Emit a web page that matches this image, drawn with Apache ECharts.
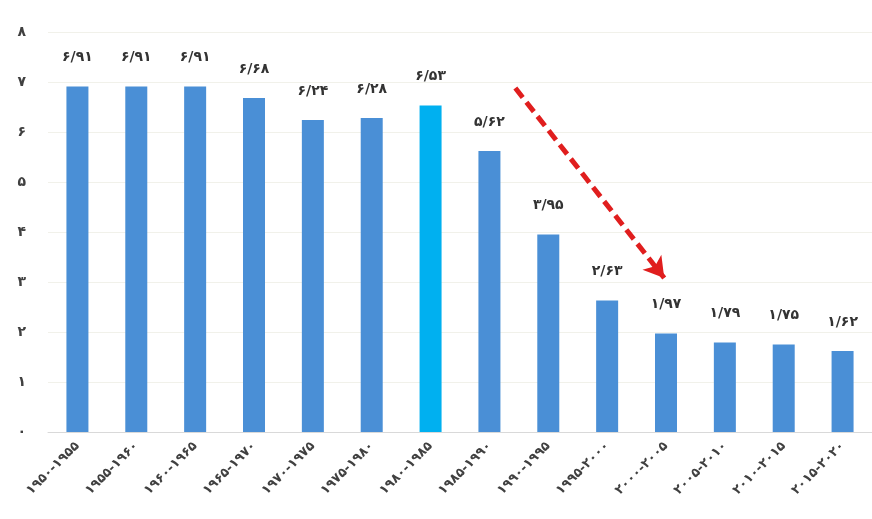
<!DOCTYPE html>
<html>
<head>
<meta charset="utf-8">
<script src="https://cdn.jsdelivr.net/npm/echarts@6/dist/echarts.min.js"></script>
<style>html,body{margin:0;padding:0;background:#fff}#c{width:872px;height:519px}</style>
</head>
<body>
<div id="c"></div>
<script>
var categories = ['۱۹۵۰-۱۹۵۵','۱۹۵۵-۱۹۶۰','۱۹۶۰-۱۹۶۵','۱۹۶۵-۱۹۷۰','۱۹۷۰-۱۹۷۵','۱۹۷۵-۱۹۸۰','۱۹۸۰-۱۹۸۵','۱۹۸۵-۱۹۹۰','۱۹۹۰-۱۹۹۵','۱۹۹۵-۲۰۰۰','۲۰۰۰-۲۰۰۵','۲۰۰۵-۲۰۱۰','۲۰۱۰-۲۰۱۵','۲۰۱۵-۲۰۲۰'];
var values = [6.91, 6.91, 6.91, 6.68, 6.24, 6.28, 6.53, 5.62, 3.95, 2.63, 1.97, 1.79, 1.75, 1.62];
var highlightIndex = 6;
var arrowStart = [7.94, 6.88];
var arrowEnd = [10.47, 3.08];

var fa = '۰۱۲۳۴۵۶۷۸۹';
function toFa(s){ return String(s).replace(/[0-9]/g, function(d){return fa[+d];}).replace('.', '/'); }

var chart = echarts.init(document.getElementById('c'));
chart.setOption({
  animation: false,
  grid: { left: 48, width: 829, top: 32, bottom: 87 },
  xAxis: [{
    type: 'category', data: categories,
    axisLine: { lineStyle: { color: '#d9d9d9' } },
    axisTick: { show: false },
    axisLabel: { rotate: 45, color: '#404040', fontSize: 13, fontWeight: 'bold', fontFamily: 'DejaVu Sans', margin: 12, interval: 0 }
  }, {
    type: 'value', min: 0, max: 14, show: false
  }],
  yAxis: {
    type: 'value', min: 0, max: 8, interval: 1,
    axisLine: { show: false }, axisTick: { show: false },
    splitLine: { lineStyle: { color: '#f1f1ea' } },
    axisLabel: { color: '#404040', fontSize: 14, fontWeight: 'bold', fontFamily: 'DejaVu Sans', margin: 22, formatter: function(v){ return toFa(v); } }
  },
  series: [{
    type: 'bar', barWidth: 22,
    data: values.map(function(v, i){ return { value: v, itemStyle: { color: i === highlightIndex ? '#00b0f0' : '#4a8fd6' } }; }),
    label: { show: true, position: 'top', distance: 22, color: '#333', fontSize: 14, fontWeight: 'bold', fontFamily: 'DejaVu Sans', formatter: function(p){ return toFa(p.value.toFixed(2)); } }
  }, {
    type: 'line', xAxisIndex: 1, data: [],
    markLine: {
      silent: true, symbol: ['none', 'arrow'], symbolSize: [18, 20],
      label: { show: false },
      lineStyle: { color: '#e01e1e', width: 5, type: [12, 6] },
      data: [[{ coord: arrowStart }, { coord: arrowEnd }]]
    }
  }]
});
</script>
</body>
</html>
